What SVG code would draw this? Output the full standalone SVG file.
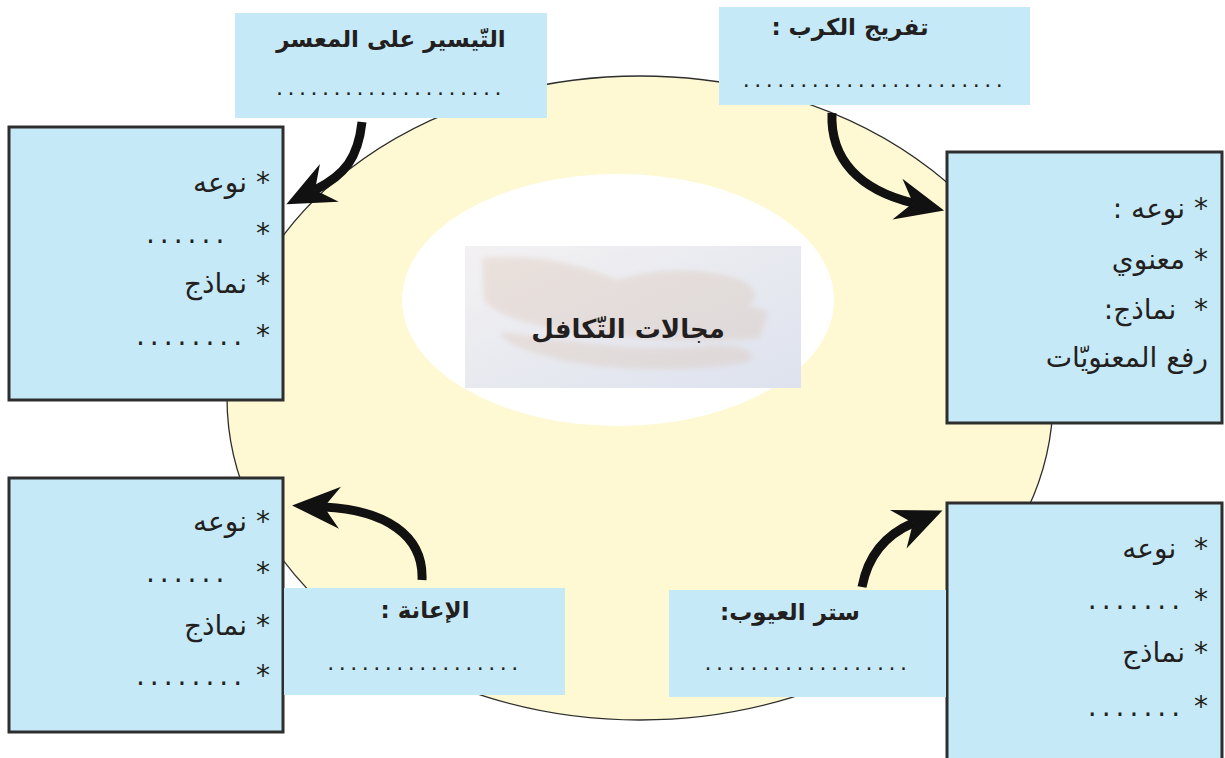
<svg xmlns="http://www.w3.org/2000/svg" width="1225" height="758" viewBox="0 0 1225 758">
<defs>
<style>
.box{fill:#c6e9f8;stroke:#2e2e2e;stroke-width:3}
.lbl{fill:#c6e9f8}
.t{font-family:"DejaVu Sans",sans-serif;font-size:28px;fill:#231f20;direction:rtl;text-anchor:start;white-space:pre}
.h{font-family:"DejaVu Sans",sans-serif;font-size:23px;font-weight:bold;fill:#231f20;direction:rtl;text-anchor:middle}
.d{font-family:"DejaVu Sans",sans-serif;font-size:22px;fill:#231f20;letter-spacing:4.5px;text-anchor:middle}
.ds{letter-spacing:5px}
.arr{fill:none;stroke:#111;stroke-width:9}
</style>
<marker id="ah" markerUnits="userSpaceOnUse" viewBox="-50 -26 54 52" refX="-32" refY="0" markerWidth="54" markerHeight="52" orient="auto">
<path d="M0,0 L-48,-21 L-32,0 L-48,21 Z" fill="#111"/>
</marker>
<linearGradient id="pg" x1="0" y1="0" x2="1" y2="1">
<stop offset="0" stop-color="#f3f1f2"/>
<stop offset="1" stop-color="#dde2ee"/>
</linearGradient>
<filter id="bl" x="-10%" y="-10%" width="120%" height="120%"><feGaussianBlur stdDeviation="2.5"/></filter>
</defs>
<rect width="1225" height="758" fill="#fff"/>
<g id="ring">
<ellipse cx="640" cy="398" rx="413" ry="322" fill="#fef9d3" stroke="#2e2e2e" stroke-width="1.3"/>
<ellipse cx="618" cy="300" rx="216" ry="126" fill="#fff"/>
</g>
<g id="center">
<rect x="465" y="246" width="336" height="142" fill="url(#pg)"/>
<g fill="#d8bba6" opacity="0.28" filter="url(#bl)">
<path d="M482,258 C540,252 600,268 640,292 C690,296 740,300 768,312 L760,338 C700,344 620,340 560,330 C520,322 492,312 484,300 Z"/>
<path d="M500,332 C560,340 640,352 700,346 C740,342 760,352 748,362 C700,372 620,372 560,360 C530,352 505,345 500,332 Z"/>
<path d="M585,292 C630,270 700,262 745,282 C758,292 758,302 745,306 C700,302 640,300 585,292 Z"/>
</g>
<text class="h" x="628" y="338" style="font-size:26px">مجالات التّكافل</text>
</g>
<g id="connectors">
<path class="arr" d="M362,122 C358,158 345,175 315,190" marker-end="url(#ah)"/>
<path class="arr" d="M832,113 C830,160 860,190 913,203" marker-end="url(#ah)"/>
<path class="arr" d="M422,580 C424,535 385,510 324,507" marker-end="url(#ah)"/>
<path class="arr" d="M862,587 C868,555 885,535 913,523" marker-end="url(#ah)"/>
</g>
<g id="n-taysir">
<rect class="lbl" x="235" y="13" width="312" height="105"/>
<text class="h" x="391" y="47">التّيسير على المعسر</text>
<text class="d" x="391" y="95">....................</text>
</g>
<g id="n-tafrij">
<rect class="lbl" x="719" y="7" width="311" height="98"/>
<text class="h" x="850" y="35">تفريج الكرب :</text>
<text class="d" x="875" y="87">.......................</text>
</g>
<g id="n-box-tl">
<rect class="box" x="9" y="127" width="274" height="273"/>
<text class="t" x="270" y="192">* نوعه</text>
<text class="t" x="270" y="243">*   <tspan class="ds">......</tspan></text>
<text class="t" x="270" y="293">* نماذج</text>
<text class="t" x="270" y="345">* <tspan class="ds">........</tspan></text>
</g>
<g id="n-box-r">
<rect class="box" x="947" y="152" width="275" height="271"/>
<text class="t" x="1208" y="218">* نوعه :</text>
<text class="t" x="1208" y="269">* معنوي</text>
<text class="t" x="1208" y="319">*  نماذج:</text>
<text class="t" x="1208" y="367">رفع المعنويّات</text>
</g>
<g id="n-box-bl">
<rect class="box" x="9" y="478" width="274" height="254"/>
<text class="t" x="270" y="531">* نوعه</text>
<text class="t" x="270" y="582">*   <tspan class="ds">......</tspan></text>
<text class="t" x="270" y="635">* نماذج</text>
<text class="t" x="270" y="685">* <tspan class="ds">........</tspan></text>
</g>
<g id="n-iaana">
<rect class="lbl" x="284" y="588" width="281" height="107"/>
<text class="h" x="425" y="618">الإعانة :</text>
<text class="d" x="425" y="670">.................</text>
</g>
<g id="n-box-br">
<rect class="box" x="947" y="503" width="275" height="260"/>
<text class="t" x="1208" y="558">*  نوعه</text>
<text class="t" x="1208" y="609">* <tspan class="ds">.......</tspan></text>
<text class="t" x="1208" y="662">* نماذج</text>
<text class="t" x="1208" y="716">* <tspan class="ds">.......</tspan></text>
</g>
<g id="n-satr">
<rect class="lbl" x="669" y="590" width="277" height="107"/>
<text class="h" x="790" y="620">ستر العيوب:</text>
<text class="d" x="808" y="670">..................</text>
</g>
</svg>
